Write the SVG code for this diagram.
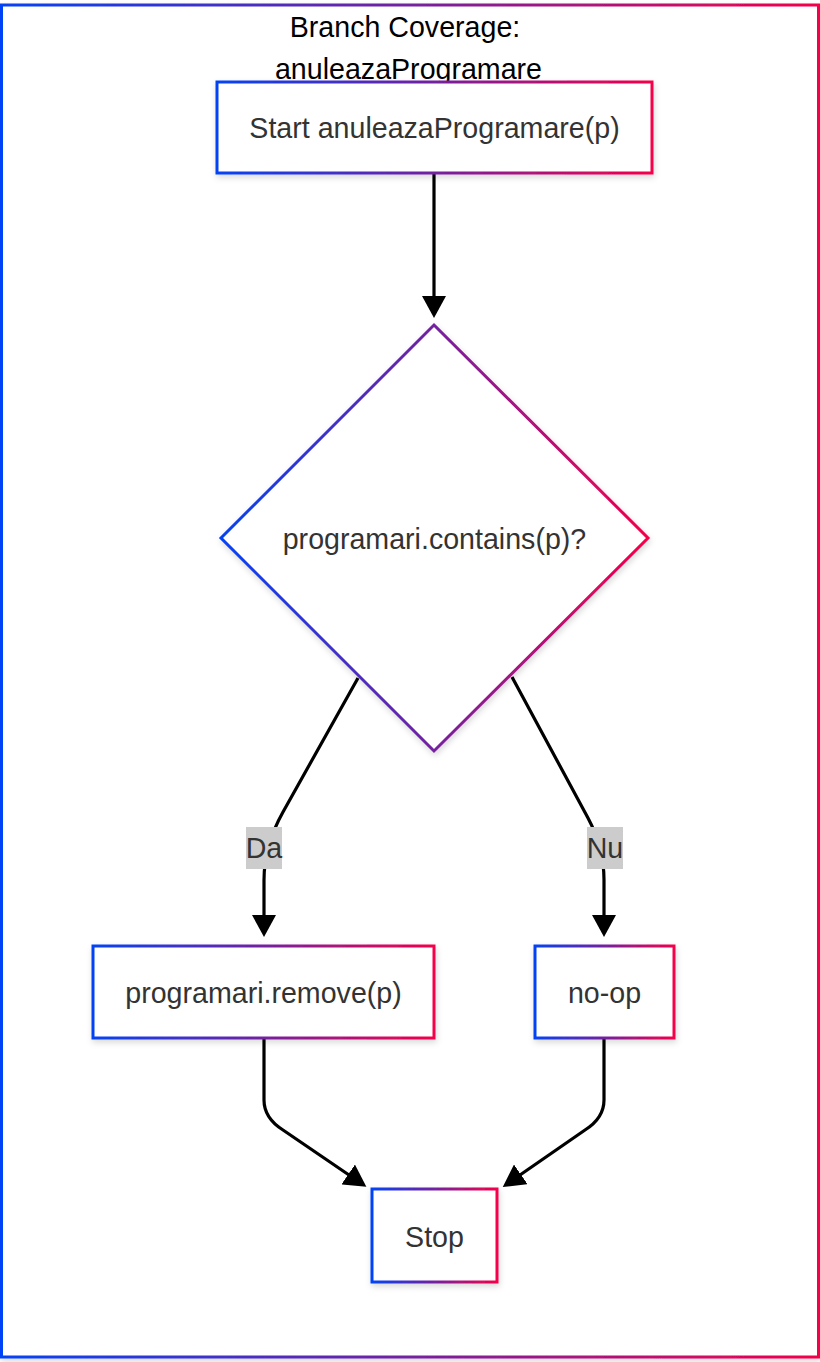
<svg xmlns="http://www.w3.org/2000/svg" width="820" height="1362" viewBox="0 0 820 1362">
<style>
  .node { fill: #ffffff; stroke: url(#grad); stroke-width: 3; filter: url(#shadow); }
  .ntext { font-family: "Liberation Sans", Arial, sans-serif; font-size: 28.6px; fill: #333333; text-anchor: middle; dominant-baseline: central; }
  .title { font-family: "Liberation Sans", Arial, sans-serif; font-size: 28.6px; fill: #000000; text-anchor: middle; }
  .edge { fill: none; stroke: #000000; stroke-width: 3.2; marker-end: url(#arrow); }
  .lblbg { fill: #cccccc; }
</style>
<defs>
  <linearGradient id="grad" x1="0" y1="0" x2="1" y2="0" gradientUnits="objectBoundingBox">
    <stop offset="0" stop-color="#0542f5"/>
    <stop offset="0.5" stop-color="#7421a0"/>
    <stop offset="1" stop-color="#f5004a"/>
  </linearGradient>
  <filter id="shadow" x="-10%" y="-10%" width="120%" height="130%">
    <feDropShadow dx="1" dy="3" stdDeviation="3" flood-color="#000000" flood-opacity="0.15"/>
  </filter>
  <marker id="arrow" viewBox="0 0 22 24" markerUnits="userSpaceOnUse" markerWidth="22" markerHeight="24" refX="1" refY="12" orient="auto">
    <path d="M0,0 L22,12 L0,24 z" fill="#000000"/>
  </marker>
</defs>

<rect id="frame" x="1.5" y="5" width="817" height="1352" fill="#ffffff" stroke="url(#grad)" stroke-width="3" filter="url(#shadow)"/>

<g id="title">
  <text class="title" x="405" y="37">Branch Coverage:</text>
  <text class="title" x="408.5" y="79">anuleazaProgramare</text>
</g>

<g id="connectors">
  <path class="edge" d="M434,174 L434,297"/>
  <path class="edge" d="M358,678 L283,812 Q264,846 264,880 L264,916"/>
  <path class="edge" d="M512,677 L588,818 Q604,848 604,880 L604,916"/>
  <path class="edge" d="M264,1038 L264,1100 Q264,1118 283,1130 L349,1175"/>
  <path class="edge" d="M604,1038 L604,1100 Q604,1118 585,1130 L520,1175"/>
  <g id="label-da">
    <rect class="lblbg" x="246" y="827" width="36" height="42"/>
    <text class="ntext" x="264" y="848">Da</text>
  </g>
  <g id="label-nu">
    <rect class="lblbg" x="587" y="827" width="36" height="42"/>
    <text class="ntext" x="605" y="848">Nu</text>
  </g>
</g>

<g id="start">
  <rect class="node" x="217" y="82" width="435" height="91"/>
  <text class="ntext" x="434.5" y="128">Start anuleazaProgramare(p)</text>
</g>

<g id="decision">
  <polygon class="node" points="434,325 648,538 434,751 221,538"/>
  <text class="ntext" x="434.5" y="539">programari.contains(p)?</text>
</g>

<g id="remove">
  <rect class="node" x="93" y="946" width="341" height="92"/>
  <text class="ntext" x="263.5" y="993">programari.remove(p)</text>
</g>

<g id="noop">
  <rect class="node" x="535" y="946" width="139" height="92"/>
  <text class="ntext" x="604.5" y="993">no-op</text>
</g>

<g id="stop">
  <rect class="node" x="372" y="1189" width="125" height="93"/>
  <text class="ntext" x="434.5" y="1237">Stop</text>
</g>
</svg>
